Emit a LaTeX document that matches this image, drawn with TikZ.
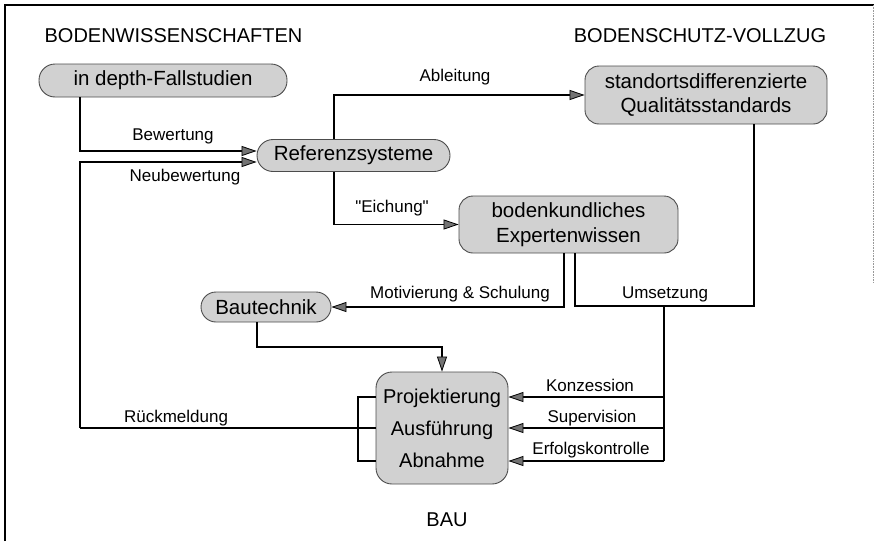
\documentclass[tikz,border=0pt]{standalone}
\usepackage{fontspec}
\setmainfont{Liberation Sans}[Ligatures=TeXOff]
\usetikzlibrary{arrows.meta}
\begin{document}
\begin{tikzpicture}[x=1pt,y=-1pt,
  box/.style={draw=black!70,line width=0.9pt,fill=black!18,inner sep=0pt,align=center,
    font=\fontsize{20.5}{24.5}\selectfont},
  conn/.style={line width=1.6pt,black},
  thinconn/.style={line width=1.1pt,black},
  arr/.style={-{Triangle[length=15pt,width=10pt,fill=black!55,line width=0.8pt]}},
  lbl/.style={font=\fontsize{17}{20}\selectfont,inner sep=0pt},
  ttl/.style={font=\fontsize{20}{24}\selectfont,inner sep=0pt}]
\useasboundingbox (0,0) rectangle (874,541);
% frame
\draw[line width=1.8pt] (5,541) -- (5,5) -- (874,5);
\draw[black!40,line width=0.6pt,densely dotted] (873,5) -- (873,282);
% titles
\node[ttl] (t1) at (173.5,36) {BODENWISSENSCHAFTEN};
\node[ttl] (t2) at (700,36) {BODENSCHUTZ-VOLLZUG};
\node[ttl] (t3) at (447,520) {BAU};
% nodes
\node[box,minimum width=248pt,minimum height=33pt,rounded corners=16pt] (fall) at (163,80.5) {in depth-Fallstudien};
\node[box,minimum width=193pt,minimum height=32pt,rounded corners=16pt] (ref) at (353.5,155.5) {Referenzsysteme};
\node[box,minimum width=242pt,minimum height=58pt,rounded corners=14pt] (std) at (706,95) {standortsdifferenzierte\\Qualitätsstandards};
\node[box,minimum width=219pt,minimum height=57pt,rounded corners=14pt] (exp) at (568.5,224.5) {bodenkundliches\\Expertenwissen};
\node[box,minimum width=130pt,minimum height=30pt,rounded corners=15pt] (btech) at (266,307) {Bautechnik};
\node[box,minimum width=132pt,minimum height=112pt,rounded corners=16pt,font=\fontsize{20}{32}\selectfont] (bau) at (442,428) {Projektierung\\Ausführung\\Abnahme};
% helper coordinates
\coordinate (xA) at (80,0);
\coordinate (xB) at (334,0);
\coordinate (xC) at (564,0);
\coordinate (xD) at (575,0);
\coordinate (xE) at (754,0);
\coordinate (xF) at (664,0);
\coordinate (xG) at (257,0);
\coordinate (xI) at (358,0);
\coordinate (yBew) at (0,151);
\coordinate (yNeu) at (0,162);
\coordinate (yMot) at (0,306);
\coordinate (yBT) at (0,347);
\coordinate (yP) at (0,397);
\coordinate (yA) at (0,428);
\coordinate (yN) at (0,461);
% connectors
\draw[conn,arr] (fall.south -| xA) |- (ref.west |- yBew);
\draw[thinconn] (bau.west |- yA) -- (xA |- yA);
\draw[conn,arr] (xA |- yA) -- (xA |- yNeu) -- (ref.west |- yNeu);
\draw[thinconn] (bau.west |- yP) -- (xI |- yP) -- (xI |- yN) -- (bau.west |- yN);
\draw[conn,arr] (ref.north -| xB) |- (std.west);
\draw[conn,arr] (ref.south -| xB) |- (exp.west);
\draw[conn,arr] (exp.south -| xC) |- (btech.east);
\draw[conn] (exp.south -| xD) |- (xE |- yMot) -- (std.south -| xE);
\draw[conn] (xF |- yMot) -- (xF |- yN);
\draw[conn,arr] (xF |- yP) -- (bau.east |- yP);
\draw[conn,arr] (xF |- yA) -- (bau.east |- yA);
\draw[conn,arr] (xF |- yN) -- (bau.east |- yN);
\draw[conn,arr] (btech.south -| xG) |- (bau.north |- yBT) -- (bau.north);
% labels
\node[lbl] (lBew) at (173,136) {Bewertung};
\node[lbl] (lNeu) at (185,177) {Neubewertung};
\node[lbl] (lAbl) at (455,77) {Ableitung};
\node[lbl] (lEich) at (392,208) {"Eichung"};
\node[lbl] (lMot) at (460,294) {Motivierung \& Schulung};
\node[lbl] (lUms) at (665,294) {Umsetzung};
\node[lbl] (lKon) at (590,385) {Konzession};
\node[lbl] (lSup) at (592,418) {Supervision};
\node[lbl] (lErf) at (591,450) {Erfolgskontrolle};
\node[lbl] (lRue) at (176,418) {Rückmeldung};
\end{tikzpicture}
\end{document}
